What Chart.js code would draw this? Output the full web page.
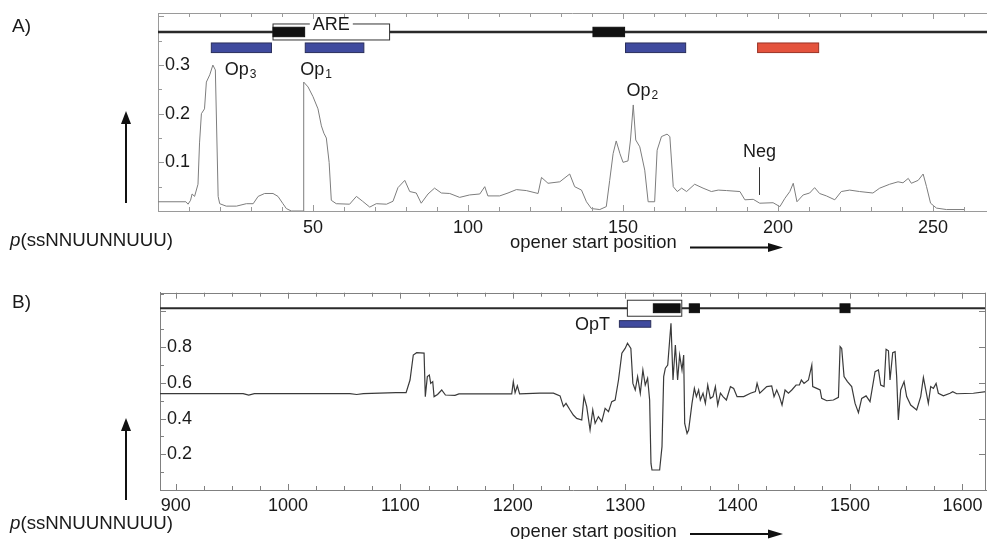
<!DOCTYPE html>
<html>
<head>
<meta charset="utf-8">
<script src="https://cdn.jsdelivr.net/npm/chart.js@4.4.0/dist/chart.umd.min.js"></script>
<style>
  body { margin: 0; background: #fff; }
  #wrap { position: relative; width: 987px; height: 539px; overflow: hidden; font-family: "Liberation Sans", Arial, sans-serif; color: #1a1a1a; }
  .panel { position: absolute; left: 0; }
  .lbl { position: absolute; line-height: 1; white-space: nowrap; }
  svg { position: absolute; left: 0; top: 0; }
</style>
</head>
<body>
<div id="wrap">
  <canvas id="chartA" class="panel" style="top:0" width="987" height="262"></canvas>
  <canvas id="chartB" class="panel" style="top:270px" width="987" height="269"></canvas>

  <div class="lbl" style="left:12px;top:16px;font-size:19px">A)</div>
  <div class="lbl" style="left:12px;top:292px;font-size:19px">B)</div>
  <div class="lbl" style="left:10px;top:231px;font-size:18.7px"><i>p</i>(ssNNUUNNUUU)</div>
  <div class="lbl" style="left:10px;top:514px;font-size:18.7px"><i>p</i>(ssNNUUNNUUU)</div>
  <div class="lbl" style="left:510px;top:233px;font-size:18.4px">opener start position</div>
  <div class="lbl" style="left:510px;top:522px;font-size:18.4px">opener start position</div>

  <svg width="987" height="539">
    <g stroke="#111" stroke-width="2" fill="#111">
      <line x1="126" y1="203" x2="126" y2="122"/>
      <polygon points="121,124 131,124 126,111" stroke="none"/>
      <line x1="126" y1="500" x2="126" y2="429"/>
      <polygon points="121,431 131,431 126,418" stroke="none"/>
      <line x1="690" y1="247.5" x2="770" y2="247.5"/>
      <polygon points="768,243 768,252 783,247.5" stroke="none"/>
      <line x1="690" y1="534" x2="770" y2="534"/>
      <polygon points="768,529.5 768,538.5 783,534" stroke="none"/>
    </g>
  </svg>
</div>

<script>
// panel A: 3' UTR probe, positions 0-260
const posA = [0, 9, 9.7, 10.5, 11, 11.8, 12.9, 13.4, 14, 15, 15.6, 16.7, 17.7, 18.5, 19.4, 19.9,
  22, 25.3, 28.5, 30.7, 32.3, 34.4, 37.1, 38.7, 40.3, 41.4, 43, 46.9, 47, 48.4, 50, 51.6, 52.7,
  53.5, 54.3, 55.2, 55.9, 57.5, 61.8, 64, 66, 68.3, 70.4, 73.7, 75.8, 77.4, 79.6, 81.2, 83.3,
  84.9, 87.1, 89.2, 91.4, 94.1, 97.3, 100.5, 103.8, 105.4, 106.4, 110.2, 112.9, 115.6, 118.8,
  122.6, 123.7, 125.8, 129.6, 132.8, 134.4, 136.6, 138.2, 139.8, 142.5, 144.6, 145.7, 146.8,
  147.8, 149, 150, 151.6, 152.4, 153.3, 154.1, 155.4, 157, 158.1, 160.2, 161, 162.4, 164.2,
  165.1, 166.2, 167.5, 168.9, 170.5, 173.1, 175.8, 178.5, 180.7, 183.4, 187.7, 189.3, 192,
  194.1, 198.4, 200.6, 202.2, 203.8, 204.9, 206.1, 208.1, 210.2, 211.8, 213.4, 215.6, 218.3,
  220.4, 223.1, 226.3, 230.6, 232.8, 236, 238.7, 240.3, 242, 243, 245.2, 246.8, 247.9, 249.2,
  251.1, 254.3, 260.2];
const probA = [0.019, 0.019, 0.014, 0.022, 0.035, 0.03, 0.055, 0.14, 0.2, 0.21, 0.265, 0.28, 0.3, 0.29, 0.03, 0.015,
  0.01, 0.01, 0.015, 0.015, 0.03, 0.036, 0.036, 0.03, 0.015, 0.005, 0, 0, 0.265, 0.255, 0.235, 0.21, 0.175,
  0.16, 0.15, 0.1, 0.022, 0.015, 0.014, 0.03, 0.02, 0.008, 0.015, 0.014, 0.02, 0.048, 0.063, 0.04, 0.037,
  0.016, 0.035, 0.047, 0.037, 0.036, 0.028, 0.033, 0.035, 0.05, 0.031, 0.031, 0.037, 0.044, 0.042,
  0.036, 0.069, 0.057, 0.06, 0.076, 0.05, 0.043, 0.019, 0.005, 0.003, 0.009, 0.063, 0.118,
  0.144, 0.118, 0.1, 0.103, 0.146, 0.218, 0.146, 0.132, 0.084, 0.019, 0.019, 0.125, 0.153, 0.158,
  0.153, 0.05, 0.04, 0.047, 0.04, 0.055, 0.047, 0.04, 0.043, 0.042, 0.04, 0.023, 0.024,
  0.016, 0.017, 0.009, 0.026, 0.04, 0.057, 0.019, 0.033, 0.037, 0.048, 0.036, 0.031, 0.023,
  0.04, 0.043, 0.04, 0.037, 0.047, 0.055, 0.06, 0.058, 0.067, 0.057, 0.063, 0.076, 0.05, 0.016,
  0.006, 0.003, 0.003];

// panel B: positions 886-1622
const posB = [886, 960, 965, 970, 1055, 1061, 1067, 1096, 1105, 1108.5, 1111.4, 1114.4, 1121, 1122.1,
  1123.9, 1125.7, 1126.9, 1128.7, 1129.9, 1133, 1136.7, 1140, 1148.5, 1152, 1199, 1200.4, 1202, 1204,
  1206, 1224, 1236.1, 1242, 1245, 1247.3, 1250.9, 1253.8, 1256.8, 1261.3, 1263.3, 1265.7, 1268.7,
  1271.1, 1273.2, 1276.1, 1279.1, 1282.1, 1285.1, 1288, 1291, 1294, 1297, 1299.9, 1302, 1305, 1306.8,
  1308.9, 1311, 1313.4, 1315.7, 1317.8, 1319.9, 1321.7, 1322.9, 1323.8, 1330.6, 1332.7, 1334.2,
  1335.7, 1337.8, 1340.7, 1342.5, 1344.6, 1346.6, 1348.4, 1350.5, 1352, 1352.9, 1355, 1356.4, 1359.4,
  1361.5, 1363.3, 1365.3, 1366.8, 1369.2, 1371.3, 1373.4, 1375.7, 1378.1, 1380.2, 1382.3, 1384.7,
  1387, 1390, 1393.6, 1396.5, 1399.5, 1405.4, 1411.4, 1415.8, 1417.3, 1419.7, 1425.9, 1430.3,
  1432.4, 1434.8, 1437.2, 1439.5, 1442.2, 1445.2, 1448.2, 1452, 1455, 1456.7, 1459.1, 1463, 1466,
  1466.8, 1470.4, 1473.4, 1474.8, 1479.3, 1485.2, 1489.7, 1491.2, 1492.6, 1494.7, 1497.7, 1501.5,
  1504.5, 1507.5, 1510.4, 1514.3, 1517.8, 1522.3, 1525.3, 1527.3, 1530.3, 1532.1, 1534.2, 1535.6,
  1538, 1540.1, 1541.5, 1543, 1545.1, 1546.9, 1548.1, 1550.4, 1554, 1559.3, 1562.9, 1565.3, 1567.7,
  1569.7, 1571.8, 1574.2, 1576.6, 1578.6, 1583.1, 1589, 1591.4, 1594.9, 1609.8, 1621.6];
const probB = [0.54, 0.54, 0.532, 0.54, 0.54, 0.535, 0.54, 0.545, 0.545, 0.616, 0.756, 0.769, 0.767, 0.523,
  0.635, 0.644, 0.597, 0.607, 0.523, 0.535, 0.56, 0.532, 0.53, 0.538, 0.538, 0.607, 0.545, 0.583,
  0.538, 0.542, 0.542, 0.527, 0.467, 0.485, 0.448, 0.42, 0.401, 0.392, 0.523, 0.467, 0.336,
  0.448, 0.373, 0.411, 0.383, 0.457, 0.439, 0.495, 0.504, 0.616, 0.766, 0.793, 0.822, 0.793, 0.597,
  0.56, 0.635, 0.542, 0.672, 0.588, 0.626, 0.504, 0.149, 0.112, 0.112, 0.243, 0.635,
  0.682, 0.7, 0.934, 0.616, 0.812, 0.616, 0.756, 0.672, 0.756, 0.373, 0.317, 0.336, 0.485,
  0.569, 0.523, 0.56, 0.504, 0.542, 0.485, 0.588, 0.513, 0.523, 0.579, 0.476, 0.542,
  0.523, 0.504, 0.579, 0.569, 0.523, 0.523, 0.542, 0.551, 0.597, 0.542, 0.579, 0.583,
  0.523, 0.56, 0.523, 0.476, 0.56, 0.542, 0.56, 0.588, 0.588, 0.616, 0.597, 0.616, 0.7,
  0.579, 0.569, 0.56, 0.513, 0.5, 0.504, 0.519, 0.803, 0.793, 0.635, 0.607, 0.579,
  0.485, 0.433, 0.513, 0.527, 0.495, 0.663, 0.672, 0.588, 0.579, 0.788, 0.78, 0.616,
  0.769, 0.775, 0.635, 0.392, 0.56, 0.588, 0.607, 0.523, 0.476, 0.448, 0.523, 0.63, 0.551,
  0.485, 0.579, 0.569, 0.597, 0.542, 0.527, 0.542, 0.551, 0.539, 0.542, 0.551];

// tick labels
const xTicksA = [50, 100, 150, 200, 250];
const yTicksA = [0.1, 0.2, 0.3];
const xTicksB = [900, 1000, 1100, 1200, 1300, 1400, 1500, 1600];
const yTicksB = [0.2, 0.4, 0.6, 0.8];

// sequence features (start, end)
const areA = [37.1, 74.7];
const stemsA = [[37.1, 47.3], [140.3, 150.5]];
const openersA = [[17.2, 36.6], [47.5, 66.4], [150.8, 170.2]];
const negA = [[193.4, 213.1]];
const boxB = [1301.9, 1350.3];
const stemsB = [[1325, 1348.8], [1357, 1366], [1491.1, 1500]];
const openersB = [[1294.8, 1322.7]];

const FONT = '"Liberation Sans", Arial, sans-serif';

// frame: top line, inward ticks on all sides
const framePlugin = {
    id: 'frame',
    afterDraw(chart, args, o) {
        const {ctx, chartArea: a, scales: {x, y}} = chart;
        ctx.save();
        ctx.strokeStyle = o.color;
        ctx.lineWidth = 1;
        ctx.beginPath();
        ctx.moveTo(a.left, Math.round(a.top) + 0.5);
        ctx.lineTo(a.right, Math.round(a.top) + 0.5);
        if (o.right) {
            ctx.moveTo(Math.round(a.right) - 0.5, a.top);
            ctx.lineTo(Math.round(a.right) - 0.5, a.bottom);
        }
        const n0 = Math.ceil(x.min / o.xStep);
        for (let i = n0; i * o.xStep <= x.max; i++) {
            const px = Math.round(x.getPixelForValue(i * o.xStep)) + 0.5;
            const len = (i % o.xEvery === 0) ? 6 : 4;
            ctx.moveTo(px, a.bottom); ctx.lineTo(px, a.bottom - len);
            ctx.moveTo(px, a.top); ctx.lineTo(px, a.top + len);
        }
        for (let i = 1; i * o.yStep < y.max; i++) {
            const py = Math.round(y.getPixelForValue(i * o.yStep)) + 0.5;
            const major = i % o.yEvery === 0;
            ctx.moveTo(a.left, py); ctx.lineTo(a.left + (major ? 6 : 4), py);
            if (o.right && major) {
                ctx.moveTo(a.right, py); ctx.lineTo(a.right - 7, py);
            }
        }
        ctx.stroke();
        ctx.restore();
    }
};

// gene map above the curve + peak labels
const genePlugin = {
    id: 'genes',
    afterDatasetsDraw(chart, args, o) {
        const {ctx, chartArea: a, scales: {x, y}} = chart;
        const X = v => x.getPixelForValue(v);
        const gy = y.getPixelForValue(o.lineValue);
        const rect = (r, t, h, fill, stroke) => {
            ctx.fillStyle = fill;
            ctx.fillRect(X(r[0]), t, X(r[1]) - X(r[0]), h);
            ctx.strokeStyle = stroke;
            ctx.lineWidth = 1;
            ctx.strokeRect(X(r[0]), t, X(r[1]) - X(r[0]), h);
        };
        ctx.save();
        ctx.strokeStyle = '#2a2a2a';
        ctx.lineWidth = o.lineWidth;
        ctx.beginPath();
        ctx.moveTo(a.left, gy); ctx.lineTo(a.right, gy);
        ctx.stroke();

        rect(o.box, gy - o.boxHalf, o.boxHalf * 2, '#fff', '#333');
        o.stems.forEach(s => rect(s, gy - o.stemHalf, o.stemHalf * 2, '#111', '#111'));
        o.openers.forEach(s => rect(s, gy + o.barTop, o.barH, '#3f4a9e', '#2a2f5c'));
        (o.neg || []).forEach(s => rect(s, gy + o.barTop, o.barH, '#e4533d', '#9a3426'));

        ctx.fillStyle = '#1a1a1a';
        ctx.textBaseline = 'middle';
        if (o.boxLabel) {
            ctx.font = '18px ' + FONT;
            const cx = (X(o.box[0]) + X(o.box[1])) / 2;
            const w = ctx.measureText(o.boxLabel).width;
            ctx.fillStyle = '#fff';
            ctx.fillRect(cx - w / 2 - 3, gy - o.boxHalf - 2, w + 6, 4);
            ctx.fillStyle = '#1a1a1a';
            ctx.textAlign = 'center';
            ctx.fillText(o.boxLabel, cx, gy - o.boxHalf + 1);
        }
        ctx.textAlign = 'left';
        o.labels.forEach(l => {
            const px = X(l.x), py = y.getPixelForValue(l.y);
            ctx.font = '18px ' + FONT;
            ctx.fillText(l.text, px, py);
            if (l.sub) {
                const w = ctx.measureText(l.text).width;
                ctx.font = '12px ' + FONT;
                ctx.fillText(l.sub, px + w + 1, py + 5);
            }
        });
        if (o.marker) {
            const m = o.marker;
            ctx.strokeStyle = '#333';
            ctx.lineWidth = 1;
            ctx.beginPath();
            ctx.moveTo(Math.round(X(m.x)) + 0.5, y.getPixelForValue(m.y0));
            ctx.lineTo(Math.round(X(m.x)) + 0.5, y.getPixelForValue(m.y1));
            ctx.stroke();
        }
        ctx.restore();
    }
};

function makeChart(id, xs, ys, c) {
    return new Chart(document.getElementById(id), {
        type: 'scatter',
        data: {
            datasets: [{
                data: xs.map((v, i) => ({x: v, y: ys[i]})),
                showLine: true,
                pointRadius: 0,
                borderColor: c.lineColor,
                borderWidth: c.lineWidth,
                tension: 0
            }]
        },
        options: {
            responsive: false,
            animation: false,
            devicePixelRatio: 1,
            layout: {padding: c.padding},
            plugins: {
                legend: {display: false},
                tooltip: {enabled: false},
                frame: c.frame,
                genes: c.genes
            },
            scales: {
                x: {
                    type: 'linear',
                    min: c.xMin,
                    max: c.xMax,
                    afterBuildTicks: s => { s.ticks = c.xTicks.map(v => ({value: v})) },
                    afterFit: s => { s.height = c.xAxisH; s.paddingLeft = 0; s.paddingRight = 0 },
                    grid: {display: false, drawTicks: false},
                    border: {display: true, color: c.frame.color, width: 1},
                    ticks: {
                        padding: c.xPad, autoSkip: false, maxRotation: 0,
                        color: '#1a1a1a', font: {family: FONT, size: 18},
                        callback: v => String(v)
                    }
                },
                y: {
                    min: 0,
                    max: c.yMax,
                    afterBuildTicks: s => { s.ticks = c.yTicks.map(v => ({value: v})) },
                    afterFit: s => { s.width = 0; s.paddingTop = 0; s.paddingBottom = 0 },
                    grid: {display: false, drawTicks: false},
                    border: {display: true, color: c.frame.color, width: 1},
                    ticks: {
                        mirror: true, padding: 7,
                        color: '#1a1a1a', font: {family: FONT, size: 18},
                        callback: v => String(v)
                    }
                }
            }
        },
        plugins: [framePlugin, genePlugin]
    });
}

makeChart('chartA', posA, probA, {
    lineColor: '#7d7d7d', lineWidth: 1,
    padding: {left: 158, top: 13, right: 0, bottom: 0},
    xMin: 0, xMax: 267.4, xTicks: xTicksA, xAxisH: 51, xPad: 6,
    yMax: 0.407, yTicks: yTicksA,
    frame: {color: '#9a9a9a', right: false, xStep: 10, xEvery: 5, yStep: 0.05, yEvery: 2},
    genes: {
        lineValue: 0.368, lineWidth: 2.5,
        box: areA, boxHalf: 8, boxLabel: 'ARE',
        stems: stemsA, stemHalf: 4.7,
        openers: openersA, neg: negA, barTop: 11, barH: 9.6,
        labels: [
            {text: 'Op', sub: '3', x: 21.5, y: 0.29},
            {text: 'Op', sub: '1', x: 45.9, y: 0.29},
            {text: 'Op', sub: '2', x: 151.1, y: 0.247},
            {text: 'Neg', x: 188.7, y: 0.122}
        ],
        marker: {x: 193.8, y0: 0.09, y1: 0.033}
    }
});

makeChart('chartB', posB, probB, {
    lineColor: '#3a3a3a', lineWidth: 1.2,
    padding: {left: 160, top: 22.7, right: 1, bottom: 0},
    xMin: 886.03, xMax: 1621, xTicks: xTicksB, xAxisH: 49, xPad: 5,
    yMax: 1.105, yTicks: yTicksB,
    frame: {color: '#808080', right: true, xStep: 25, xEvery: 4, yStep: 0.1, yEvery: 2},
    genes: {
        lineValue: 1.018, lineWidth: 2.2,
        box: boxB, boxHalf: 8,
        stems: stemsB, stemHalf: 4.4,
        openers: openersB, barTop: 12.4, barH: 6.6,
        labels: [{text: 'OpT', x: 1255.3, y: 0.924}]
    }
});
</script>
</body>
</html>
